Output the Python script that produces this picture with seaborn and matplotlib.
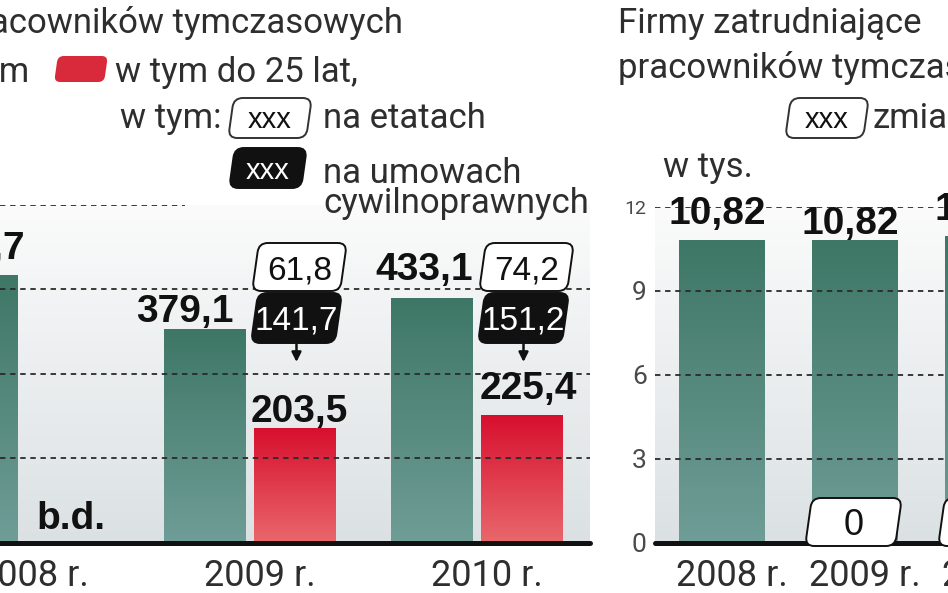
import numpy as np
import pandas as pd
import matplotlib
matplotlib.use('Agg')
import matplotlib.pyplot as plt
import seaborn as sns
from matplotlib.patches import FancyBboxPatch, FancyArrowPatch
from matplotlib.transforms import Affine2D, IdentityTransform
from matplotlib.colors import LinearSegmentedColormap

# dane
lata = ['2008 r.', '2009 r.', '2010 r.']
ogolem = [474.7, 379.1, 433.1]          # liczba pracownikow tymczasowych (tys.)
do_25_lat = [np.nan, 203.5, 225.4]      # w tym do 25 lat
na_etatach = [None, 61.8, 74.2]
na_umowach = [None, 141.7, 151.2]
firmy = [10.82, 10.82, 10.95]           # firmy zatrudniajace (tys.)
firmy_zmiana = [None, '0', '0,13']

# uklad etykiet (piksele): przesuniecie x, wysokosc linii bazowej nad slupkiem
etyk_ogolem = [(-1, 16), (-20, 7), (-7, 19)]
etyk_mlodzi = [None, (5, 6), (7, 17)]
etyk_firmy = [(-4, 16), (-4, 6), (-4, 16)]

W, H = 948, 593
GREEN = ('#6f9d97', '#3e7766')
RED = ('#e9686c', '#d70f2e')
BG = ('#dbe1e3', '#fbfbfb')
TXT = '#2e2e2e'
LIGHT = ['Roboto', 'DejaVu Sans']
NUM = ['Liberation Sans', 'DejaVu Sans']

sns.set_style('white')
plt.rcParams['font.family'] = LIGHT

fig = plt.figure(figsize=(W / 100, H / 100), dpi=100)
grad = np.linspace(0, 1, 256).reshape(-1, 1)


def cmap(pair):
    return LinearSegmentedColormap.from_list('g', list(pair))


def T(y):
    return H - y


def ftext(x, y, s, **kw):
    kw.setdefault('color', TXT)
    kw.setdefault('fontsize', 25)
    kw.setdefault('va', 'baseline')
    fig.text(x / W, T(y) / H, s, **kw)


def skew_box(cx, cy, w, h, s, fc, ec, tc, size, z=6):
    # cx, cy w pikselach ekranu (poczatek u dolu)
    tr = Affine2D().translate(-cx, -cy).skew_deg(8, 0).translate(cx, cy)
    box = FancyBboxPatch((cx - w / 2, cy - h / 2), w, h,
                         boxstyle='round,pad=0,rounding_size=9',
                         fc=fc, ec=ec, lw=1.4, transform=tr, zorder=z)
    fig.add_artist(box)
    base = cy - 0.36 * size * 100 / 72
    fig.text(cx / W, base / H, s, ha='center', va='baseline', color=tc,
             fontsize=size, family=NUM, weight='normal', zorder=z + 1)


def arrow(x, y0, y1):
    a = FancyArrowPatch((x, y0), (x, y1), arrowstyle='-|>', mutation_scale=14,
                        lw=1.8, color='#111111', shrinkA=0, shrinkB=0,
                        transform=IdentityTransform(), zorder=6)
    fig.add_artist(a)


def gradient_bars(ax):
    bars = []
    for p in list(ax.patches):
        h = p.get_height()
        if not np.isfinite(h) or h == 0:
            continue
        x0, w = p.get_x(), p.get_width()
        red = p.get_facecolor()[0] > 0.6
        ax.imshow(grad, extent=[x0, x0 + w, 0, h], origin='lower',
                  cmap=cmap(RED if red else GREEN), aspect='auto', zorder=2)
        p.set_visible(False)
        bars.append((x0 + w / 2, h, red))
    ax.imshow(grad, extent=[0, 1, 0, 1], transform=ax.transAxes, origin='lower',
              cmap=cmap(BG), aspect='auto', zorder=0)
    return bars


def clean(ax):
    for s in ax.spines.values():
        s.set_visible(False)
    ax.set_xlabel('')
    ax.set_ylabel('')
    ax.set_xticks([])


def dashed(ax, y, xmax=1.0):
    ax.axhline(y, xmin=0, xmax=xmax, color='#2b2b2b', lw=1.3,
               ls=(0, (3, 2.6)), zorder=3)


# ---------------- lewy panel ----------------
ax1 = fig.add_axes([0, (H - 543) / H, 590 / W, (543 - 204.5) / H])
df1 = pd.DataFrame({'rok': lata * 2,
                    'grupa': ['ogółem'] * 3 + ['do 25 lat'] * 3,
                    'wartosc': ogolem + do_25_lat})
sns.barplot(data=df1, x='rok', y='wartosc', hue='grupa',
            hue_order=['ogółem', 'do 25 lat'],
            palette={'ogółem': GREEN[1], 'do 25 lat': RED[1]},
            width=0.793, gap=0.1, errorbar=None, legend=False, ax=ax1)
bars1 = gradient_bars(ax1)
ax1.set_xlim(-0.099, 2.5)
ax1.set_ylim(0, 600)
clean(ax1)
ax1.set_yticks([])
for y in [150, 300, 450]:
    dashed(ax1, y)
dashed(ax1, 600, xmax=185 / 590)
ax1.axhline(0, color='#111111', lw=3.6, zorder=4, clip_on=False)

for cx, top, red in bars1:
    i = int(round(cx))
    off = (etyk_mlodzi if red else etyk_ogolem)[i]
    val = (do_25_lat if red else ogolem)[i]
    ax1.annotate(f'{val:.1f}'.replace('.', ','), xy=(cx, top),
                 xytext=off, textcoords='offset pixels', ha='center',
                 va='baseline', fontsize=28, family=NUM, weight='bold',
                 color='#111111', zorder=7, annotation_clip=False)
    if red and na_etatach[i] is not None:
        px, _ = ax1.transData.transform((cx, 0))
        skew_box(px + 5, T(267), 88, 48, f'{na_etatach[i]:.1f}'.replace('.', ','),
                 'white', '#111111', '#111111', 24)
        skew_box(px + 2, T(318), 84, 50, f'{na_umowach[i]:.1f}'.replace('.', ','),
                 '#111111', '#111111', 'white', 24)
        arrow(px + 2, T(342), T(362))

# brak danych dla 2008 r.
red_slot = [cx for cx, _, red in bars1 if red][0] - 1
ax1.annotate('b.d.', xy=(red_slot, 0), xytext=(3, 14), textcoords='offset pixels',
             ha='center', va='baseline', fontsize=28, family=NUM, weight='bold',
             color='#111111', zorder=7)
for i, rok in enumerate(lata):
    ax1.annotate(rok, xy=(i, 0), xycoords=('data', 'axes fraction'),
                 xytext=(10, -43), textcoords='offset pixels', ha='center',
                 va='baseline', fontsize=26, color=TXT, annotation_clip=False)

# ---------------- prawy panel ----------------
ax2 = fig.add_axes([655 / W, (H - 543) / H, 293 / W, 336 / H])
df2 = pd.DataFrame({'rok': lata, 'firmy': firmy})
sns.barplot(data=df2, x='rok', y='firmy', color=GREEN[1], width=0.64,
            errorbar=None, ax=ax2)
bars2 = gradient_bars(ax2)
ax2.set_xlim(-0.5, 1.703)
ax2.set_ylim(0, 12)
clean(ax2)
ax2.set_yticks([0, 3, 6, 9, 12])
ax2.set_yticklabels(['0', '3', '6', '9', '12'])
ax2.tick_params(axis='y', length=0, pad=6, labelsize=19, labelcolor='#4a4a4a')
ax2.get_yticklabels()[-1].set_fontsize(14)
for y in [3, 6, 9, 12]:
    dashed(ax2, y)
ax2.axhline(0, color='#111111', lw=3.6, zorder=4, clip_on=False)

for cx, top, _ in bars2:
    i = int(round(cx))
    ax2.annotate(f'{firmy[i]:.2f}'.replace('.', ','), xy=(cx, top),
                 xytext=etyk_firmy[i], textcoords='offset pixels', ha='center',
                 va='baseline', fontsize=28, family=NUM, weight='bold',
                 color='#111111', zorder=7, annotation_clip=False)
    if firmy_zmiana[i] is not None:
        px, _ = ax2.transData.transform((cx, 0))
        skew_box(px - 1, T(522), 90, 48, firmy_zmiana[i], 'white', '#111111',
                 '#111111', 26)
for i, rok in enumerate(lata):
    ax2.annotate(rok, xy=(i, 0), xycoords=('data', 'axes fraction'),
                 xytext=(10, -43), textcoords='offset pixels', ha='center',
                 va='baseline', fontsize=26, color=TXT, annotation_clip=False)

# ---------------- legenda / tytuly ----------------
ftext(403, 33, 'Liczba pracowników tymczasowych', ha='right')
ftext(30, 82, 'ogółem', ha='right')
sw_tr = Affine2D().translate(-81, -T(69)).skew_deg(8, 0).translate(81, T(69))
fig.add_artist(FancyBboxPatch((81 - 25, T(69) - 13), 50, 26,
                              boxstyle='round,pad=0,rounding_size=6',
                              fc='#d92a3b', ec='none', transform=sw_tr))
ftext(115, 82, 'w tym do 25 lat,')
ftext(120, 128, 'w tym:')
skew_box(270, T(118), 78, 40, 'xxx', 'white', '#333333', '#111111', 21)
ftext(323, 128, 'na etatach')
skew_box(268, T(168), 72, 40, 'xxx', '#111111', '#111111', 'white', 21)
ftext(323, 183, 'na umowach')
ftext(323, 213, 'cywilnoprawnych')

ftext(618, 33, 'Firmy zatrudniające')
ftext(618, 78, 'pracowników tymczasowych')
skew_box(827, T(118), 78, 40, 'xxx', 'white', '#333333', '#111111', 21)
ftext(872, 128, 'zmiana')
ftext(663, 177, 'w tys.', fontsize=25)

fig.savefig('out.png', dpi=100, facecolor='white')
